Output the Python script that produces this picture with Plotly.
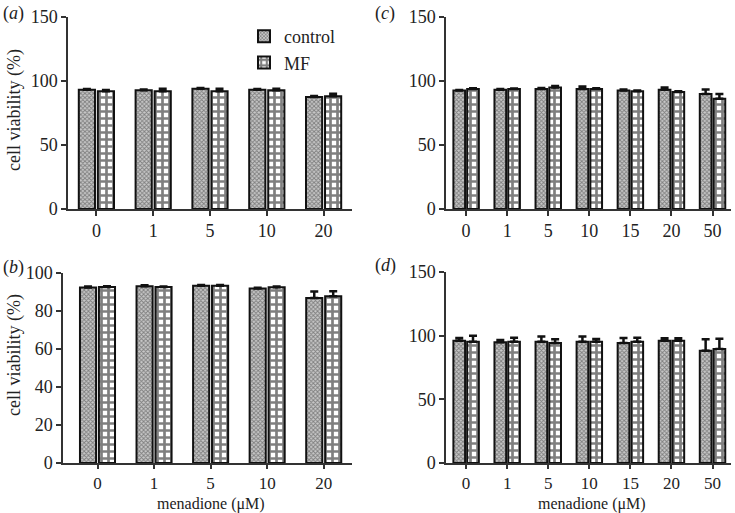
import plotly.graph_objects as go

# ---- data ----
cats_ab = ["0", "1", "5", "10", "20"]
cats_cd = ["0", "1", "5", "10", "15", "20", "50"]

a_control = [93.2, 92.7, 94.0, 93.2, 87.5]
a_control_err = [0.5, 0.6, 0.6, 0.5, 0.8]
a_mf = [91.9, 91.9, 92.0, 92.7, 88.0]
a_mf_err = [1.0, 2.0, 2.0, 1.3, 2.0]

b_control = [92.4, 93.0, 93.3, 91.8, 86.8]
b_control_err = [0.5, 0.6, 0.4, 0.4, 3.5]
b_mf = [92.6, 92.6, 93.3, 92.5, 87.8]
b_mf_err = [0.4, 0.3, 0.4, 0.4, 2.6]

c_control = [92.5, 93.2, 93.8, 93.8, 92.5, 93.2, 89.9]
c_control_err = [0.5, 0.5, 0.7, 2.0, 0.8, 1.8, 3.4]
c_mf = [93.8, 93.8, 95.0, 93.8, 92.0, 91.4, 86.2]
c_mf_err = [0.6, 0.4, 1.0, 0.6, 0.5, 0.5, 3.6]

d_control = [96.1, 94.8, 95.3, 95.3, 94.2, 96.1, 88.2]
d_control_err = [2.0, 1.8, 4.0, 4.0, 4.0, 1.8, 9.0]
d_mf = [95.3, 95.3, 94.2, 95.3, 95.3, 96.1, 89.5]
d_mf_err = [4.7, 3.0, 3.0, 2.0, 3.0, 1.8, 8.0]

panel_letters = ["a", "b", "c", "d"]
y_title = "cell viability (%)"
x_title = "menadione (μM)"
series_names = ["control", "MF"]

FONT = "Liberation Serif, Times New Roman, serif"
TXT = "#222"
ctrl_pattern = dict(shape="x", size=3, solidity=0.5, fgcolor="#333333", bgcolor="#c8c8c8")
mf_pattern = dict(shape="+", size=7, solidity=0.62, fgcolor="#000000", bgcolor="white")

fig = go.Figure()

panels = [
    (cats_ab, a_control, a_control_err, a_mf, a_mf_err, "", True),
    (cats_ab, b_control, b_control_err, b_mf, b_mf_err, "2", False),
    (cats_cd, c_control, c_control_err, c_mf, c_mf_err, "3", False),
    (cats_cd, d_control, d_control_err, d_mf, d_mf_err, "4", False),
]

for cats, cv, ce, mv, me, s, sl in panels:
    fig.add_trace(go.Bar(
        x=cats, y=cv, name=series_names[0], showlegend=sl, legendgroup="c",
        xaxis="x" + s, yaxis="y" + s,
        marker=dict(color="#c8c8c8", pattern=ctrl_pattern, line=dict(color="#111", width=2)),
        error_y=dict(type="data", array=ce, arrayminus=[0] * len(ce), symmetric=False,
                     color="#111", thickness=2.5, width=4),
    ))
    fig.add_trace(go.Bar(
        x=cats, y=mv, name=series_names[1], showlegend=sl, legendgroup="m",
        xaxis="x" + s, yaxis="y" + s,
        marker=dict(color="white", pattern=mf_pattern, line=dict(color="#111", width=2)),
        error_y=dict(type="data", array=me, arrayminus=[0] * len(me), symmetric=False,
                     color="#111", thickness=2.5, width=4),
    ))

W, H = 735, 513
def px(x):
    return x / W
def py(y):
    return 1 - y / H

axis_common = dict(showline=True, linecolor="#333", linewidth=1.5, ticks="outside",
                   ticklen=5, tickwidth=1.5, tickcolor="#333", showgrid=False,
                   zeroline=False, automargin=False,
                   tickfont=dict(family=FONT, size=18, color=TXT))
bottom_x = dict(ticklen=4, tickfont=dict(family=FONT, size=17, color=TXT))

layout_axes = {
    "xaxis": dict(domain=[px(68), px(352)], range=[-0.5, 4.5], anchor="y", type="category"),
    "yaxis": dict(domain=[py(209), py(17)], range=[0, 150], tickvals=[0, 50, 100, 150], anchor="x"),
    "xaxis2": dict(domain=[px(63), px(352)], range=[-0.61, 4.5], anchor="y2", type="category", **bottom_x),
    "yaxis2": dict(domain=[py(463), py(273)], range=[0, 100], tickvals=[0, 20, 40, 60, 80, 100], anchor="x2"),
    "xaxis3": dict(domain=[px(446), px(731)], range=[-0.49, 6.45], anchor="y3", type="category"),
    "yaxis3": dict(domain=[py(209), py(17)], range=[0, 150], tickvals=[0, 50, 100, 150], anchor="x3"),
    "xaxis4": dict(domain=[px(446), px(731)], range=[-0.49, 6.45], anchor="y4", type="category", **bottom_x),
    "yaxis4": dict(domain=[py(463), py(272)], range=[0, 150], tickvals=[0, 50, 100, 150], anchor="x4"),
}
for k, v in layout_axes.items():
    d = dict(axis_common)
    d.update(v)
    layout_axes[k] = d

annotations = []
for letter, (x, y) in zip(panel_letters, [(1, 13), (1, 267), (373, 13), (373, 265)]):
    annotations.append(dict(text="(<i>" + letter + "</i>)", x=px(x), y=py(y), xref="paper", yref="paper",
                            xanchor="left", yanchor="middle", showarrow=False,
                            font=dict(family=FONT, size=18, color=TXT)))
for (x, y) in [(14, 110), (14, 355)]:
    annotations.append(dict(text=y_title, x=px(x), y=py(y), xref="paper", yref="paper",
                            xanchor="center", yanchor="middle", textangle=-90, showarrow=False,
                            font=dict(family=FONT, size=18, color=TXT)))
for (x, y) in [(211, 504), (592, 504)]:
    annotations.append(dict(text=x_title, x=px(x), y=py(y), xref="paper", yref="paper",
                            xanchor="center", yanchor="middle", showarrow=False,
                            font=dict(family=FONT, size=16, color=TXT)))

fig.update_layout(
    width=W, height=H,
    margin=dict(l=0, r=0, t=0, b=0, autoexpand=False),
    paper_bgcolor="white", plot_bgcolor="white",
    barmode="group", bargap=0.33, bargroupgap=0.15,
    font=dict(family=FONT, size=18, color=TXT),
    legend=dict(x=px(244), y=py(18), xanchor="left", yanchor="top",
                font=dict(family=FONT, size=18, color=TXT),
                bgcolor="rgba(0,0,0,0)", tracegroupgap=0, itemwidth=30),
    annotations=annotations,
    **layout_axes,
)

fig.write_html("out.html", config={"displayModeBar": False},
               post_script="document.body.style.margin='0';document.body.style.overflow='hidden';")
